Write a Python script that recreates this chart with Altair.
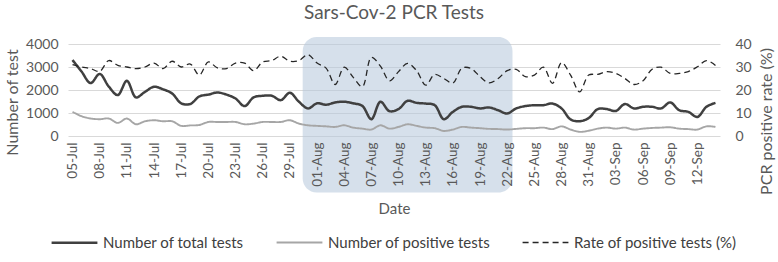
import altair as alt
import pandas as pd

# ---------------- data ----------------
START_DATE = "2020-07-05"
N_DAYS = 72

TOTAL = [3300, 2800, 2300, 2700, 2150, 1780, 2400, 1680, 1920, 2140,
         2030, 1850, 1420, 1390, 1720, 1800, 1890, 1800, 1630, 1300,
         1680, 1750, 1750, 1560, 1880, 1490, 1200, 1420, 1360, 1460,
         1490, 1420, 1310, 730, 1490, 1080, 1170, 1530, 1440, 1410,
         1340, 730, 1050, 1270, 1270, 1200, 1240, 1120, 980, 1200,
         1300, 1340, 1340, 1410, 1200, 720, 640, 780, 1170, 1170,
         1090, 1390, 1200, 1270, 1270, 1200, 1460, 1120, 1050, 830,
         1270, 1440]

POSITIVE = [1050, 860, 760, 730, 760, 570, 760, 510, 640, 685,
            640, 640, 440, 460, 480, 610, 610, 610, 610, 510,
            540, 610, 610, 610, 685, 540, 465, 440, 420, 395,
            465, 365, 320, 280, 465, 320, 395, 510, 440, 365,
            340, 220, 280, 395, 365, 340, 310, 300, 280, 310,
            340, 340, 365, 300, 420, 280, 180, 230, 320, 365,
            320, 365, 280, 320, 350, 365, 380, 320, 300, 280,
            420, 395]

RATE = [31, 30, 29.3, 28.1, 32.8, 30.7, 30, 29.3, 30, 31.7,
        29.3, 32.5, 30, 31.3, 26.5, 32.2, 29.6, 29.3, 31.7, 31.7,
        28.4, 32.2, 32.8, 34.7, 32.5, 32.8, 35.4, 31.7, 29.5, 22.4,
        29.9, 25.5, 21.4, 34.2, 30.4, 24, 28, 31.6, 28.4, 22.1,
        26.8, 25, 23, 29.5, 29.4, 25.8, 23.1, 25, 28.4, 29,
        25.8, 26.5, 29.9, 22.9, 31.9, 26.5, 19.2, 26.5, 26.8, 28,
        27.2, 25, 22.4, 24, 29, 29.9, 27.2, 27.2, 28, 30.1,
        32.8, 30.7]

SERIES = ["Number of total tests", "Number of positive tests", "Rate of positive tests (%)"]
COUNT_TICKS = [0, 1000, 2000, 3000, 4000]
RATE_TICKS = [0, 10, 20, 30, 40]

# highlighted period (annotation box)
BOX_START = ["2020-07-30T10:00:00"]
BOX_END = ["2020-08-22T14:00:00"]
BOX_TOP = [4300]
BOX_BOTTOM = [-2460]

# --------------------------------------
dates = pd.date_range(START_DATE, periods=N_DAYS)
date_str = dates.strftime("%Y-%m-%dT00:00:00").tolist()
tick_dates = [alt.DateTime(year=d.year, month=d.month, date=d.day) for d in dates[::3]]

counts = pd.DataFrame({
    "date": date_str * 2,
    "value": TOTAL + POSITIVE,
    "series": [SERIES[0]] * N_DAYS + [SERIES[1]] * N_DAYS,
})
rate = pd.DataFrame({"date": date_str, "value": RATE, "series": SERIES[2]})
box = pd.DataFrame({"start": BOX_START, "end": BOX_END, "value": BOX_TOP, "value2": BOX_BOTTOM})

FONT = "Lato"
GREY = "#595959"

x_scale = alt.Scale(domain=[alt.DateTime(year=2020, month=7, date=4, hours=12),
                            alt.DateTime(year=2020, month=9, date=14, hours=12)])
x_axis = alt.Axis(values=tick_dates, format="%d-%b", labelAngle=-90, labelFontSize=13.5,
                  labelColor=GREY, labelFont=FONT, domain=False, ticks=False, grid=False,
                  labelPadding=6, title="Date", titleFont=FONT, titleFontSize=15,
                  titleFontWeight="normal", titleColor=GREY, titleX=326, titleY=72,
                  titleBaseline="middle", titleAlign="center", zindex=1)

left_scale = alt.Scale(domain=[0, 4000], nice=False)
left_axis = alt.Axis(values=COUNT_TICKS, format="d", title="Number of test", grid=True,
                     gridColor="#d9d9d9", domain=False, ticks=False, labelPadding=10,
                     labelFontSize=14, labelColor=GREY, labelFont=FONT, titleFont=FONT,
                     titleFontSize=16, titleFontWeight="normal", titleColor=GREY,
                     titleAngle=-90, titleX=-56, titleY=58, titleBaseline="middle",
                     titleAlign="center")

right_axis = alt.Axis(values=RATE_TICKS, title="PCR positive rate (%)", grid=False,
                      orient="right", domain=False, ticks=False, labelPadding=15,
                      labelFontSize=14, labelColor=GREY, labelFont=FONT, titleFont=FONT,
                      titleFontSize=16, titleFontWeight="normal", titleColor=GREY,
                      titleAngle=-90, titleX=46, titleY=77, titleBaseline="middle",
                      titleAlign="center")

color_scale = alt.Scale(domain=SERIES, range=["#404040", "#a6a6a6", "#262626"])
dash_scale = alt.Scale(domain=SERIES, range=[[1, 0], [1, 0], [6, 4]])
width_scale = alt.Scale(domain=SERIES, range=[2.5, 1.3, 1.5])

legend = alt.Legend(title=None, orient="none", legendX=-18, legendY=174, direction="horizontal",
                    columns=3, columnPadding=28, symbolType="stroke", symbolSize=2100,
                    labelFont=FONT, labelFontSize=15, labelColor="#404040", labelLimit=300,
                    symbolStrokeWidth=1.5)

def style_enc():
    return dict(
        color=alt.Color("series:N", scale=color_scale, legend=legend),
        strokeDash=alt.StrokeDash("series:N", scale=dash_scale, legend=legend),
        strokeWidth=alt.StrokeWidth("series:N", scale=width_scale, legend=legend),
    )

box_layer = alt.Chart(box).mark_rect(cornerRadius=14, color="#b4c7da", opacity=0.55).encode(
    x=alt.X("start:T", scale=x_scale, axis=x_axis),
    x2="end:T",
    y=alt.Y("value:Q", scale=left_scale, axis=left_axis),
    y2="value2:Q",
)

count_lines = alt.Chart(counts).mark_line(interpolate="catmull-rom").encode(
    x=alt.X("date:T", scale=x_scale, axis=x_axis),
    y=alt.Y("value:Q", scale=left_scale, axis=left_axis),
    detail="series:N",
    **style_enc(),
)

rate_line = alt.Chart(rate).mark_line(interpolate="catmull-rom").encode(
    x=alt.X("date:T", scale=x_scale, axis=x_axis),
    y=alt.Y("value:Q", scale=alt.Scale(domain=[0, 40], nice=False), axis=right_axis),
    **style_enc(),
)

left = alt.layer(box_layer, count_lines)
chart = alt.layer(left, rate_line).resolve_scale(y="independent").properties(
    width=652, height=92,
    autosize=alt.AutoSizeParams(type="none"),
    padding={"left": 68, "top": 44, "right": 58, "bottom": 126},
    title=alt.TitleParams("Sars-Cov-2 PCR Tests", font=FONT, fontSize=19, fontWeight="normal",
                          color=GREY, anchor="middle", offset=14),
).configure_view(stroke=None)

chart.save("out.html", embed_options={"renderer": "svg", "actions": False})
